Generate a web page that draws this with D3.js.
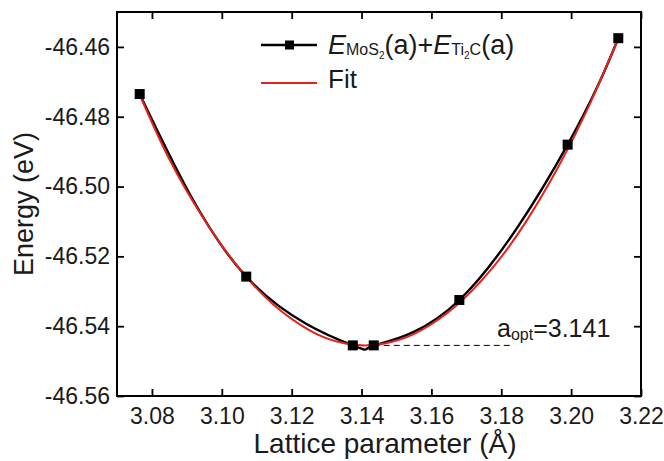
<!DOCTYPE html>
<html>
<head>
<meta charset="utf-8">
<script src="https://cdn.jsdelivr.net/npm/d3@7"></script>
<style>
  body { margin: 0; background: #fff; }
  svg { font-family: "Liberation Sans", Arial, sans-serif; }
</style>
</head>
<body>
<div id="chart"></div>
<script>
// data
const latticeA = [3.0765, 3.107, 3.1375, 3.1435, 3.168, 3.199, 3.2135];
const energy = [-46.4735, -46.5258, -46.5455, -46.5455, -46.5325, -46.4880, -46.4575];

// red fit curve, sampled along the drawn line
const fitA = [3.0765, 3.085, 3.095, 3.105, 3.115, 3.125, 3.133, 3.141, 3.149, 3.157, 3.167, 3.177, 3.187, 3.197, 3.205, 3.2135];
const fitE = [-46.4737, -46.4922, -46.5095, -46.5235, -46.5340, -46.5411, -46.5444, -46.5455, -46.5444, -46.5412, -46.5342, -46.5239, -46.5102, -46.4931, -46.4771, -46.4577];

const xTicks = [3.08, 3.10, 3.12, 3.14, 3.16, 3.18, 3.20, 3.22];
const yTicks = [-46.46, -46.48, -46.50, -46.52, -46.54, -46.56];
const eMin = -46.5455;

const width = 664;
const height = 461;
const margin = { top: 12, right: 23, bottom: 65, left: 117 };

const x = d3.scaleLinear()
  .domain([3.07, 3.22])
  .range([margin.left, width - margin.right]);
const y = d3.scaleLinear()
  .domain([-46.56, -46.45])
  .range([height - margin.bottom, margin.top]);

const svg = d3.select("#chart")
  .append("svg")
  .attr("width", width)
  .attr("height", height);

const tickLen = 7;
// plain hyphen, not the unicode minus d3.format would give
const fmt = d => d.toFixed(2);

// bottom + top axes (ticks point inward)
svg.append("g")
  .attr("transform", `translate(0,${y.range()[0]})`)
  .call(d3.axisBottom(x).tickValues(xTicks).tickFormat(fmt).tickSize(-tickLen).tickPadding(12).tickSizeOuter(0));
svg.append("g")
  .attr("transform", `translate(0,${y.range()[1]})`)
  .call(d3.axisTop(x).tickValues(xTicks).tickFormat("").tickSize(-tickLen).tickSizeOuter(0));

// left + right axes
svg.append("g")
  .attr("transform", `translate(${x.range()[0]},0)`)
  .call(d3.axisLeft(y).tickValues(yTicks).tickFormat(fmt).tickSize(-tickLen).tickPadding(7).tickSizeOuter(0));
svg.append("g")
  .attr("transform", `translate(${x.range()[1]},0)`)
  .call(d3.axisRight(y).tickValues(yTicks).tickFormat("").tickSize(-tickLen).tickSizeOuter(0));

svg.selectAll(".tick line").attr("stroke", "#000").attr("stroke-width", 1.8);
svg.selectAll(".domain").remove();
svg.selectAll(".tick text")
  .attr("fill", "#1a1a1a")
  .style("font-size", "23px");

// frame
svg.append("rect")
  .attr("x", x.range()[0])
  .attr("y", y.range()[1])
  .attr("width", x.range()[1] - x.range()[0])
  .attr("height", y.range()[0] - y.range()[1])
  .attr("fill", "none")
  .attr("stroke", "#000")
  .attr("stroke-width", 2);

// dashed guide at the minimum
svg.append("line")
  .attr("x1", x(3.1435))
  .attr("x2", x(3.1825))
  .attr("y1", y(eMin))
  .attr("y2", y(eMin))
  .attr("stroke", "#000")
  .attr("stroke-width", 1)
  .attr("stroke-dasharray", "6,4");

const line = d3.line()
  .x(d => x(d[0]))
  .y(d => y(d[1]))
  .curve(d3.curveNatural);

// data line, smooth through the points
const dataPts = latticeA.map((a, i) => [a, energy[i]]);
svg.append("path")
  .datum(dataPts)
  .attr("d", line)
  .attr("fill", "none")
  .attr("stroke", "#000")
  .attr("stroke-width", 2.4);

const fitPts = fitA.map((a, i) => [a, fitE[i]]);
svg.append("path")
  .datum(fitPts)
  .attr("d", line)
  .attr("fill", "none")
  .attr("stroke", "#e8211d")
  .attr("stroke-width", 2);

const sq = 10;
svg.append("g")
  .selectAll("rect")
  .data(dataPts)
  .join("rect")
    .attr("x", d => x(d[0]) - sq / 2)
    .attr("y", d => y(d[1]) - sq / 2)
    .attr("width", sq)
    .attr("height", sq)
    .attr("fill", "#000");

// annotation
const ann = svg.append("text")
  .attr("x", 497)
  .attr("y", 337)
  .attr("fill", "#1a1a1a")
  .style("font-size", "25px");
ann.append("tspan").text("a");
ann.append("tspan").attr("dy", 3).style("font-size", "16px").text("opt");
ann.append("tspan").attr("dy", -3).text("=3.141");

// legend
const legend = svg.append("g");
legend.append("line")
  .attr("x1", 261).attr("x2", 317)
  .attr("y1", 45).attr("y2", 45)
  .attr("stroke", "#000").attr("stroke-width", 2.5);
legend.append("rect")
  .attr("x", 285).attr("y", 40.5)
  .attr("width", 9).attr("height", 9)
  .attr("fill", "#000");
legend.append("line")
  .attr("x1", 261).attr("x2", 317)
  .attr("y1", 83).attr("y2", 83)
  .attr("stroke", "#e8211d").attr("stroke-width", 2);

const lt = legend.append("text")
  .attr("x", 328).attr("y", 54)
  .attr("fill", "#1a1a1a")
  .style("font-size", "27px");
lt.append("tspan").style("font-style", "italic").text("E");
lt.append("tspan").style("font-size", "16px").attr("dy", 1).text("MoS");
lt.append("tspan").style("font-size", "10px").attr("dy", 4).text("2");
lt.append("tspan").attr("dy", -5).text("(a)+");
lt.append("tspan").style("font-style", "italic").text("E");
lt.append("tspan").style("font-size", "16px").attr("dy", 1).text("Ti");
lt.append("tspan").style("font-size", "10px").attr("dy", 4).text("2");
lt.append("tspan").style("font-size", "16px").attr("dy", -4).text("C");
lt.append("tspan").attr("dy", -1).text("(a)");

legend.append("text")
  .attr("x", 328).attr("y", 88)
  .attr("fill", "#1a1a1a")
  .style("font-size", "26px")
  .text("Fit");

// axis titles
svg.append("text")
  .attr("x", (x.range()[0] + x.range()[1]) / 2 + 6)
  .attr("y", 453)
  .attr("text-anchor", "middle")
  .attr("fill", "#1a1a1a")
  .style("font-size", "28px")
  .text("Lattice parameter (Å)");

svg.append("text")
  .attr("transform", `translate(33,${(y.range()[0] + y.range()[1]) / 2}) rotate(-90)`)
  .attr("text-anchor", "middle")
  .attr("fill", "#1a1a1a")
  .style("font-size", "27px")
  .text("Energy (eV)");
</script>
</body>
</html>
